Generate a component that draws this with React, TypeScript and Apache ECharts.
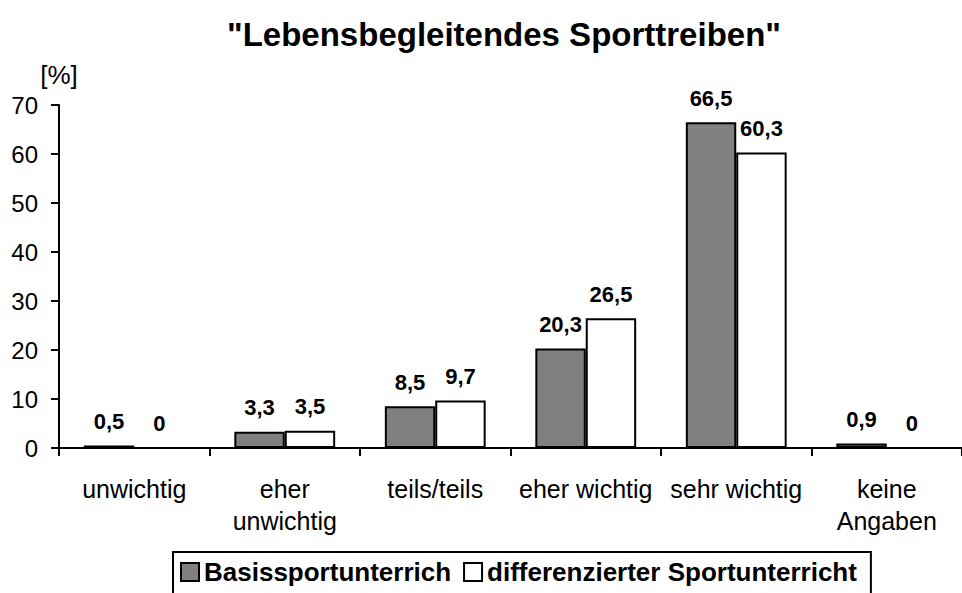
import React, { useEffect, useRef } from "react";
import * as echarts from "echarts";

const categories = ["unwichtig", "eher\nunwichtig", "teils/teils", "eher wichtig", "sehr wichtig", "keine\nAngaben"];
const basisValues = [0.5, 3.3, 8.5, 20.3, 66.5, 0.9];
const diffValues = [0, 3.5, 9.7, 26.5, 60.3, 0];
const seriesNames = ["Basissportunterrich", "differenzierter Sportunterricht"];
const titleText = '"Lebensbegleitendes Sporttreiben"';
const yUnit = "[%]";

const FONT = "'Liberation Sans', Arial, sans-serif";

export default function App() {
  const ref = useRef<HTMLDivElement>(null);
  useEffect(() => {
    if (!ref.current) return;
    const chart = echarts.init(ref.current, undefined, { renderer: "svg" });
    const labelFmt = (p: any) => String(p.value).replace(".", ",");
    const label = {
      show: true,
      position: "top",
      distance: 13,
      formatter: labelFmt,
      fontSize: 22,
      fontWeight: "bold",
      color: "#000",
      fontFamily: FONT,
    };
    chart.setOption({
      animation: false,
      backgroundColor: "#ffffff",
      textStyle: { fontFamily: FONT, color: "#000" },
      title: {
        text: titleText,
        left: 499,
        top: 13,
        textAlign: "center",
        textStyle: { fontSize: 33, fontWeight: "bold", color: "#000", fontFamily: FONT },
      },
      grid: { left: 59, right: -4, top: 105, bottom: 145, containLabel: false },
      legend: {
        left: 173,
        top: 552,
        orient: "horizontal",
        borderColor: "#000",
        borderWidth: 2,
        padding: [7, 14, 20, 7],
        itemWidth: 18,
        itemHeight: 18,
        itemGap: 12,
        icon: "rect",
        textStyle: { fontSize: 26, fontWeight: "bold", color: "#000", fontFamily: FONT },
        data: seriesNames,
      },
      xAxis: {
        type: "category",
        data: categories,
        boundaryGap: true,
        axisLine: { lineStyle: { color: "#000", width: 2 } },
        axisTick: { show: true, length: 8, lineStyle: { color: "#000", width: 2 }, alignWithLabel: false },
        axisLabel: { fontSize: 25, color: "#000", margin: 25, lineHeight: 32, interval: 0, fontFamily: FONT },
        splitLine: { show: false },
      },
      yAxis: {
        type: "value",
        min: 0,
        max: 70,
        interval: 10,
        name: yUnit,
        nameLocation: "end",
        nameGap: 17,
        nameTextStyle: { fontSize: 26, color: "#000", fontFamily: FONT, align: "center" },
        axisLine: { show: true, lineStyle: { color: "#000", width: 2 } },
        axisTick: { show: true, length: 8, lineStyle: { color: "#000", width: 2 } },
        axisLabel: { fontSize: 24, color: "#000", margin: 21, fontFamily: FONT },
        splitLine: { show: false },
      },
      series: [
        {
          name: seriesNames[0],
          type: "bar",
          data: basisValues,
          barGap: "0%",
          barCategoryGap: "33%",
          itemStyle: { color: "#808080", borderColor: "#000", borderWidth: 2 },
          label,
        },
        {
          name: seriesNames[1],
          type: "bar",
          data: diffValues,
          barGap: "0%",
          barCategoryGap: "33%",
          itemStyle: { color: "#ffffff", borderColor: "#000", borderWidth: 2 },
          label,
        },
      ],
    });
    return () => chart.dispose();
  }, []);
  return (
    <div
      ref={ref}
      style={{ position: "fixed", left: 0, top: 0, width: 962, height: 593, background: "#fff" }}
    />
  );
}
